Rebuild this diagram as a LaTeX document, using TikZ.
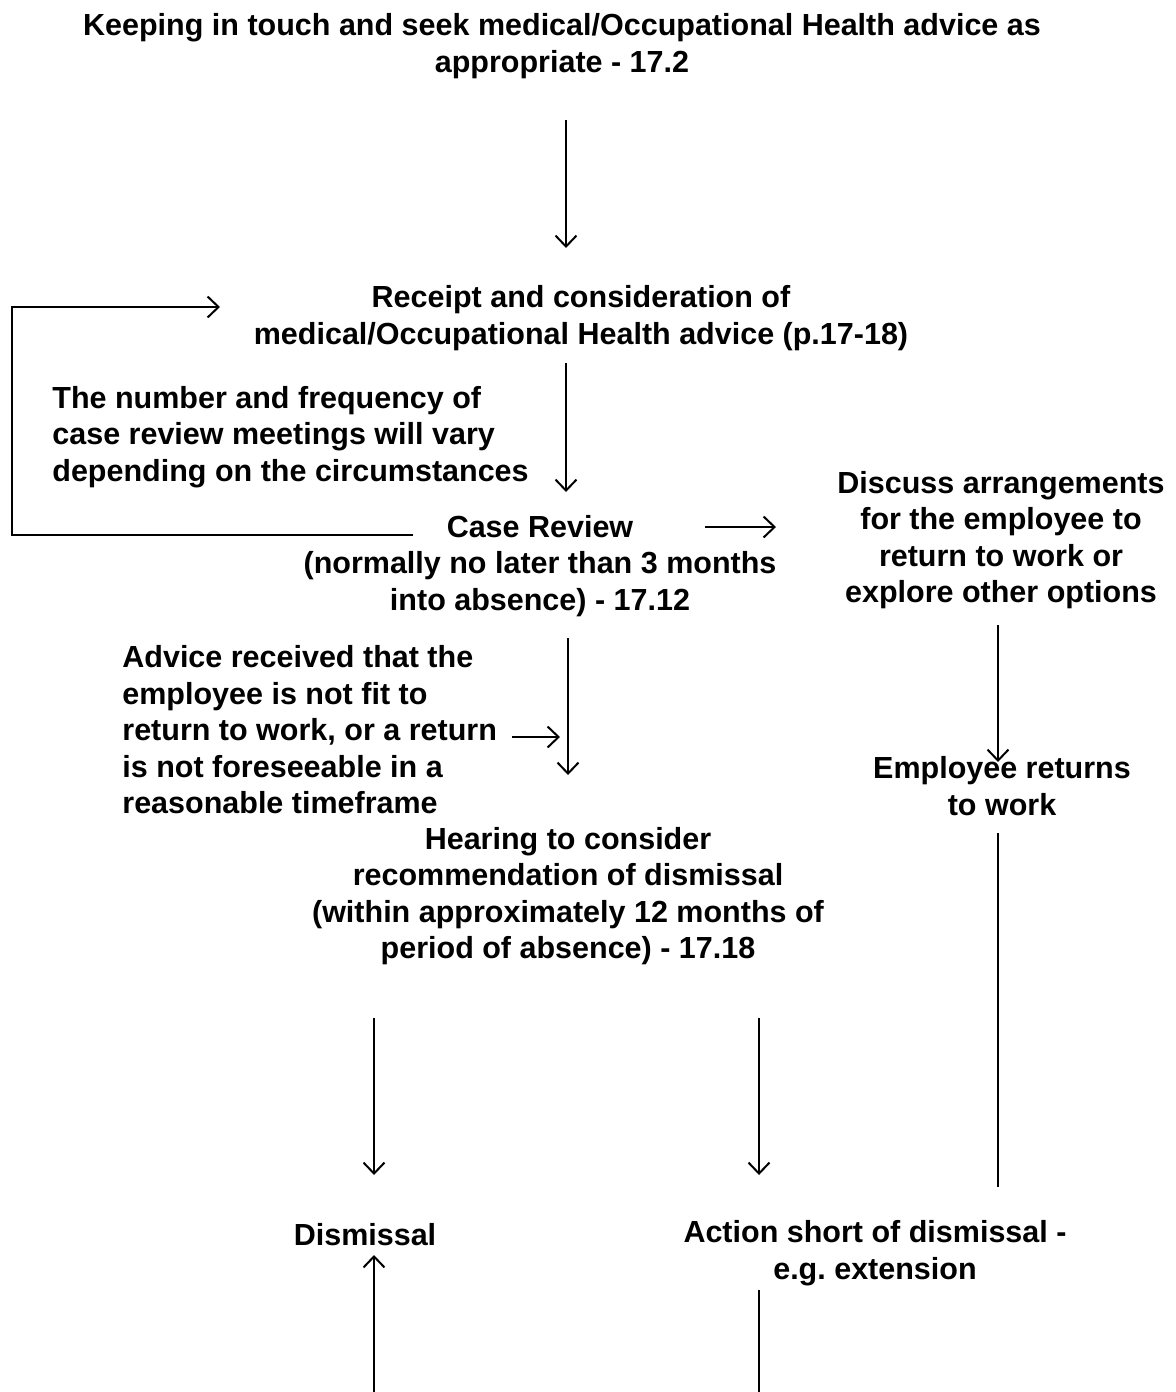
\documentclass[tikz,border=0pt]{standalone}
\usepackage{fontspec}
\setmainfont{Liberation Sans}
\usetikzlibrary{arrows.meta,positioning,calc}

\begin{document}
\begin{tikzpicture}[
  x=0.5pt, y=-0.5pt,
  font=\fontsize{15.25pt}{18.25pt}\selectfont\bfseries\frenchspacing,
  txt/.style={align=center, inner sep=0pt, yshift=-1pt},
  note/.style={align=left, inner sep=0pt, anchor=west, yshift=-1pt},
  arrow/.style={-{Straight Barb[length=5.5pt, width=10.5pt]}, line width=1pt},
  plain/.style={line width=1pt}
]
\useasboundingbox (0,0) rectangle (1176,1392);
\node[txt] (keep) at (562,44) {Keeping in touch and seek medical/Occupational Health advice as\\appropriate - 17.2};
\node[txt] (receipt) at (581,316) {Receipt and consideration of\\medical/Occupational Health advice (p.17-18)};
\node[note] (freq) at (52,435) {The number and frequency of\\case review meetings will vary\\depending on the circumstances};
\node[txt] (review) at (540,564) {Case Review\\(normally no later than 3 months\\into absence) - 17.12};
\node[txt] (discuss) at (1001,538) {Discuss arrangements\\for the employee to\\return to work or\\explore other options};
\node[txt] (returns) at (1002,784) {Employee returns\\to work};
\node[note] (advice) at (122,728) {Advice received that the\\employee is not fit to\\return to work, or a return\\is not foreseeable in a\\reasonable timeframe};
\node[txt] (hearing) at (568,894) {Hearing to consider\\recommendation of dismissal\\(within approximately 12 months of\\period of absence) - 17.18};
\node[txt] (dismissal) at (365,1233) {Dismissal};
\node[txt] (action) at (875,1251) {Action short of dismissal -\\e.g. extension};

% free ends of the connectors
\coordinate (k1) at (566,120);  \coordinate (k2) at (566,248);
\coordinate (r1) at (566,363);  \coordinate (r2) at (566,492);
\coordinate (l1) at (413,535);  \coordinate (l2) at (12,535);
\coordinate (l3) at (12,307);   \coordinate (l4) at (220,307);
\coordinate (c1) at (705,527);  \coordinate (c2) at (776,527);
\coordinate (d1) at (998,625);  \coordinate (d2) at (998,762);
\coordinate (e1) at (998,833);  \coordinate (e2) at (998,1187);
\coordinate (h1) at (568,638);  \coordinate (h2) at (568,775);
\coordinate (v1) at (512,737);  \coordinate (v2) at (560,737);
\coordinate (m1) at (374,1018); \coordinate (m2) at (374,1175);
\coordinate (s1) at (759,1018); \coordinate (s2) at (759,1175);
\coordinate (u1) at (374,1392); \coordinate (u2) at (374,1255);
\coordinate (t1) at (759,1290); \coordinate (t2) at (759,1392);

\draw[arrow] (k1) -- (k2);
\draw[arrow] (r1) -- (r2);
\draw[arrow] (l1) -- (l2) -- (l3) -- (l4);
\draw[arrow] (c1) -- (c2);
\draw[arrow] (d1) -- (d2);
\draw[plain] (e1) -- (e2);
\draw[arrow] (h1) -- (h2);
\draw[arrow] (v1) -- (v2);
\draw[arrow] (m1) -- (m2);
\draw[arrow] (s1) -- (s2);
\draw[arrow] (u1) -- (u2);
\draw[plain] (t1) -- (t2);
\end{tikzpicture}
\end{document}
